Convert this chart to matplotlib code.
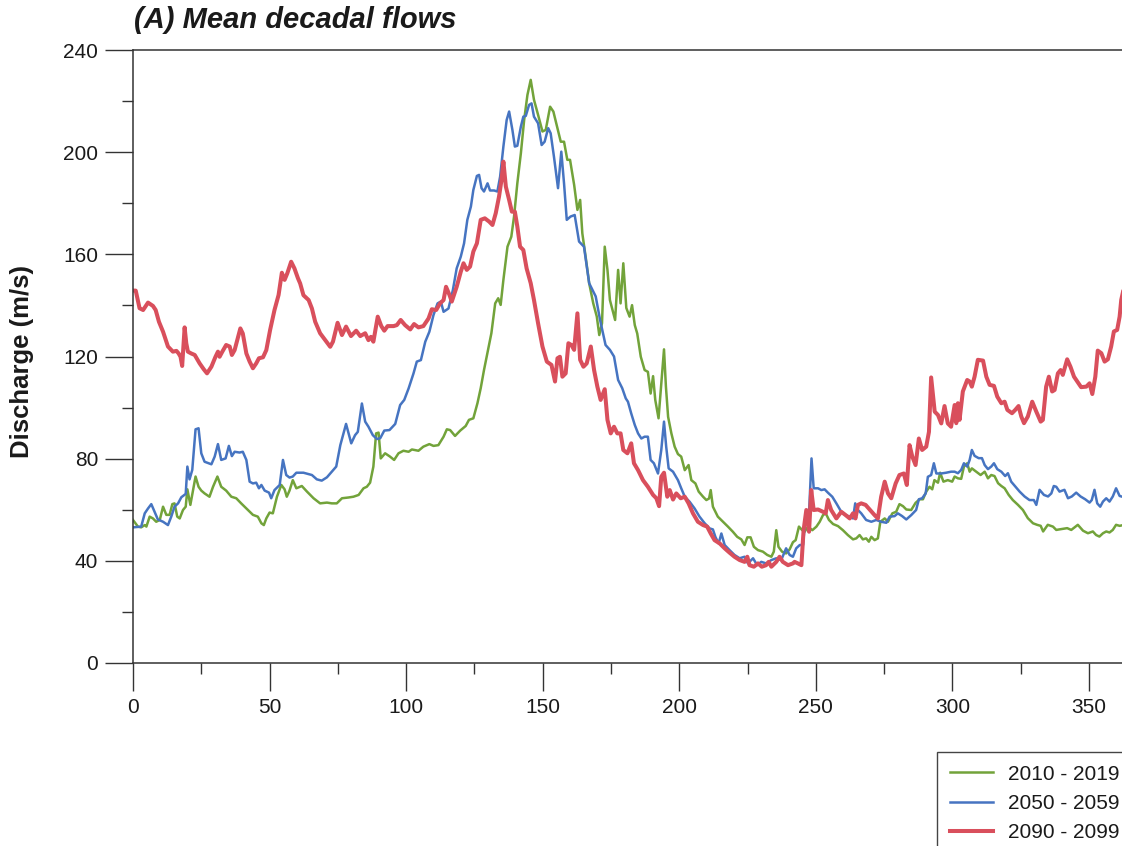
import matplotlib
matplotlib.use("Agg")
import matplotlib.pyplot as plt
from matplotlib.ticker import MultipleLocator

plt.rcParams['font.family'] = ['Liberation Sans', 'DejaVu Sans']

# ---------------- data (day of year, discharge m/s) ----------------
labels = ["2010 - 2019", "2050 - 2059", "2090 - 2099"]

green_days = [0, 1.8, 3.0, 4.3, 4.9, 6.1, 7.3, 8.5, 9.8, 11.0, 12.2, 13.4, 14.4, 15.2, 16.2, 17.1, 18.3, 19.3, 19.9, 21.0,
              22.0, 22.9, 24.0, 25.0, 26.2, 28.0, 29.3, 30.9, 32.3, 34.1, 36.0, 37.8, 39.6, 42.1, 43.9, 45.7, 47.0, 47.9, 48.8, 50.0,
              51.2, 52.7, 54.3, 55.5, 56.3, 57.3, 58.5, 59.8, 61.8, 63.7, 66.1, 68.5, 71.0, 72.8, 74.6, 76.5, 78.9, 80.7, 82.6, 84.4,
              85.6, 86.8, 88.0, 89.0, 89.9, 90.7, 92.3, 94.1, 95.6, 97.2, 99.0, 100.9, 102.1, 104.5, 106.3, 108.5, 110.0, 111.8, 113.7, 114.9,
              116.1, 117.9, 119.8, 121.8, 123.0, 124.6, 126.1, 127.3, 128.5, 130.0, 131.2, 132.6, 133.7, 134.6, 135.6, 137.1, 138.5, 139.5, 140.7, 142.0,
              143.2, 144.4, 145.6, 146.8, 148.3, 149.9, 151.1, 152.7, 153.9, 155.4, 156.6, 157.8, 159.0, 160.0, 161.5, 162.7, 163.7, 164.5, 165.7, 167.0,
              168.5, 169.8, 170.7, 171.7, 172.7, 173.7, 174.6, 176.5, 177.6, 178.5, 179.5, 180.6, 181.8, 182.7, 183.7, 184.6, 185.9, 187.3, 188.5, 189.5,
              190.4, 191.2, 192.4, 193.4, 194.4, 195.1, 195.9, 197.1, 198.3, 199.5, 200.7, 202.0, 203.4, 204.4, 205.9, 207.1, 208.7, 209.9, 210.9, 211.5,
              212.3, 214.1, 216.0, 217.8, 219.6, 221.2, 222.7, 223.9, 224.9, 226.1, 227.3, 228.8, 230.6, 232.2, 233.7, 234.6, 235.5, 236.3, 237.6, 239.1,
              240.4, 241.6, 242.6, 243.8, 245.0, 245.9, 247.1, 248.7, 250.2, 251.4, 252.6, 253.6, 254.8, 256.3, 258.1, 259.9, 261.7, 263.6, 264.8, 266.0,
              267.2, 268.4, 269.4, 270.3, 271.5, 272.7, 273.6, 275.2, 276.4, 278.0, 279.4, 280.6, 281.9, 283.1, 284.9, 286.5, 288.0, 289.2, 290.4, 291.6,
              292.6, 293.4, 294.7, 295.5, 296.7, 298.3, 299.9, 300.8, 302.0, 303.2, 304.2, 305.4, 306.3, 307.1, 308.7, 310.3, 311.8, 313.0, 314.2, 315.4,
              316.7, 317.9, 319.1, 320.6, 322.1, 324.0, 325.8, 327.6, 329.5, 331.0, 332.3, 333.2, 334.9, 336.8, 338.0, 339.8, 342.0, 343.5, 345.9, 347.8,
              349.6, 351.4, 352.6, 353.8, 355.1, 356.3, 357.5, 358.7, 359.9, 361.2, 362.5]
green_vals = [56.0, 53.4, 53.1, 54.0, 53.4, 57.3, 56.6, 55.3, 56.0, 61.2, 58.0, 58.0, 62.2, 62.5, 57.3, 56.6, 59.9, 61.2, 68.0, 61.9,
              67.7, 73.0, 69.0, 67.5, 66.4, 65.1, 69.0, 73.0, 69.0, 67.5, 65.1, 64.5, 62.5, 59.9, 58.0, 57.3, 54.7, 54.0, 56.6, 58.9,
              58.6, 65.1, 69.7, 68.0, 65.1, 67.5, 71.6, 68.4, 69.3, 67.1, 64.5, 62.5, 62.8, 62.5, 62.5, 64.5, 64.8, 65.1, 65.8, 68.4,
              69.0, 70.6, 76.9, 89.9, 90.2, 80.1, 82.1, 80.8, 79.5, 82.1, 83.1, 82.7, 83.6, 83.1, 84.7, 85.7, 85.0, 85.3, 88.6, 91.5,
              91.2, 88.9, 91.0, 92.8, 95.2, 95.8, 101.7, 107.6, 114.7, 122.6, 129.1, 140.8, 142.8, 140.2, 150.0, 163.0, 166.9, 174.8, 187.8, 199.6,
              212.6, 222.4, 228.3, 220.5, 214.6, 208.1, 208.7, 217.8, 215.9, 209.4, 204.1, 204.1, 197.0, 197.0, 187.2, 177.4, 181.3, 168.2, 159.1, 148.7,
              140.8, 135.6, 128.4, 133.0, 163.0, 153.9, 142.1, 134.3, 153.9, 140.8, 156.5, 139.0, 135.6, 140.1, 132.3, 129.0, 119.9, 114.7, 114.0, 105.5,
              112.3, 103.0, 95.8, 109.5, 122.8, 108.2, 96.4, 89.9, 84.7, 81.8, 80.8, 75.5, 77.5, 71.6, 70.3, 67.1, 65.1, 63.8, 64.4, 67.7,
              61.2, 57.3, 55.3, 53.4, 51.4, 49.4, 48.4, 46.2, 49.2, 49.2, 45.5, 44.2, 43.6, 42.3, 41.6, 43.6, 52.0, 45.5, 43.6, 42.9,
              44.5, 47.3, 48.1, 53.4, 52.0, 51.4, 53.4, 52.0, 53.4, 55.3, 57.9, 58.6, 56.0, 54.4, 53.6, 52.0, 50.1, 48.4, 48.8, 50.1,
              48.4, 48.8, 47.5, 49.4, 48.1, 48.8, 55.3, 56.6, 55.3, 58.6, 59.2, 62.2, 61.4, 60.1, 59.9, 62.7, 64.1, 64.1, 67.1, 69.0,
              68.0, 71.6, 70.6, 74.5, 71.0, 71.6, 71.0, 73.0, 72.3, 72.1, 76.9, 78.2, 74.9, 76.2, 74.9, 73.6, 74.9, 72.3, 73.6, 73.2,
              70.4, 69.3, 68.4, 65.8, 63.8, 61.9, 59.9, 56.7, 54.7, 54.1, 53.7, 51.5, 54.1, 53.4, 52.1, 52.4, 52.8, 52.1, 54.1, 51.8,
              50.8, 51.5, 50.1, 49.5, 50.8, 51.5, 51.1, 52.1, 54.1, 53.7, 54.0]

blue_days = [0, 3.0, 4.3, 5.5, 6.7, 7.9, 9.1, 11.0, 12.8, 14.0, 15.2, 16.5, 17.7, 19.3, 19.9, 20.7, 21.7, 22.9, 24.0, 25.0,
             26.2, 28.7, 29.9, 31.1, 32.3, 33.9, 35.1, 36.2, 37.2, 39.0, 40.2, 41.5, 42.7, 43.9, 45.1, 46.1, 47.0, 48.2, 49.8, 50.6,
             51.8, 53.7, 54.9, 56.1, 57.3, 58.5, 59.8, 62.4, 65.5, 67.3, 69.1, 71.0, 72.8, 74.4, 75.9, 78.0, 79.9, 81.3, 82.3, 83.8,
             85.0, 86.2, 87.8, 89.3, 90.5, 92.0, 93.9, 96.0, 97.8, 99.3, 100.9, 102.7, 103.9, 105.4, 107.0, 108.5, 110.0, 111.5, 112.7, 113.7,
             115.5, 117.1, 118.5, 120.0, 121.2, 122.4, 123.7, 124.6, 125.9, 126.7, 127.6, 128.5, 129.8, 130.7, 132.2, 133.4, 134.4, 135.6, 136.8, 137.7,
             138.9, 139.8, 140.7, 142.0, 142.9, 143.8, 145.0, 145.9, 146.8, 148.3, 149.6, 150.7, 152.0, 152.9, 154.1, 155.6, 156.8, 157.8, 158.8, 160.2,
             161.7, 163.3, 165.1, 167.0, 168.2, 169.4, 171.0, 173.0, 174.6, 176.1, 177.6, 179.1, 180.4, 181.2, 182.4, 183.7, 184.9, 186.1, 187.3, 188.5,
             189.5, 190.7, 192.2, 193.4, 194.4, 195.2, 196.1, 197.7, 199.5, 200.7, 202.0, 203.8, 205.6, 207.4, 209.3, 211.1, 212.3, 213.2, 214.4, 215.4,
             216.6, 218.4, 220.2, 222.1, 223.9, 225.1, 227.0, 228.5, 230.0, 231.8, 233.7, 235.5, 237.3, 239.1, 240.4, 241.6, 242.8, 244.1, 245.3, 246.3,
             247.5, 248.4, 249.2, 250.8, 252.0, 253.2, 254.4, 256.0, 257.5, 259.3, 260.9, 262.4, 263.6, 264.4, 265.4, 266.6, 268.4, 270.3, 272.1, 273.9,
             275.8, 277.0, 278.8, 280.0, 281.6, 283.1, 284.9, 286.7, 287.7, 288.9, 290.2, 291.0, 292.2, 293.2, 294.1, 295.9, 297.7, 299.5, 300.8, 302.0,
             303.2, 304.2, 305.4, 306.3, 307.1, 308.1, 309.6, 310.8, 311.8, 313.0, 314.2, 315.2, 316.4, 317.9, 319.3, 320.3, 321.5, 323.0, 324.6, 326.4,
             328.2, 329.8, 330.7, 331.9, 333.5, 335.0, 336.2, 337.1, 338.0, 339.2, 341.0, 342.3, 343.7, 345.3, 346.9, 348.6, 350.2, 351.0, 352.0, 353.0,
             354.1, 355.1, 356.3, 357.5, 358.7, 359.9, 361.2, 362.5]
blue_vals = [53.1, 53.4, 58.6, 60.5, 62.2, 59.2, 56.2, 55.3, 54.0, 57.3, 61.2, 62.5, 64.9, 66.2, 76.9, 71.9, 75.6, 91.5, 91.9, 82.1,
             78.8, 77.8, 80.8, 85.7, 79.5, 80.1, 85.0, 81.0, 82.7, 82.4, 82.7, 79.5, 71.0, 70.3, 70.6, 68.4, 69.7, 67.5, 66.7, 64.5,
             67.7, 69.7, 79.5, 73.6, 72.6, 73.0, 74.5, 74.5, 73.6, 71.9, 71.4, 72.7, 74.9, 76.9, 85.3, 93.6, 86.0, 89.2, 90.5, 101.6,
             94.5, 92.5, 89.2, 87.7, 88.0, 91.0, 91.2, 93.6, 101.0, 103.0, 107.5, 113.4, 118.0, 118.6, 125.8, 129.7, 136.2, 140.8, 141.5, 137.5,
             138.8, 146.0, 154.5, 159.1, 164.3, 173.5, 178.7, 185.2, 190.7, 191.1, 185.9, 184.6, 187.8, 185.0, 185.0, 184.6, 190.4, 202.2, 212.6, 215.9,
             208.7, 202.2, 202.5, 210.0, 213.9, 214.2, 218.5, 219.1, 213.9, 211.3, 202.8, 204.1, 209.4, 207.4, 198.3, 185.9, 200.2, 187.8, 173.5, 174.8,
             175.4, 165.0, 163.0, 148.7, 146.1, 143.5, 134.3, 124.5, 122.6, 120.0, 110.8, 107.6, 103.6, 102.3, 97.7, 93.2, 89.9, 87.9, 88.6, 88.6,
             79.5, 78.2, 74.2, 83.4, 94.5, 84.7, 76.2, 74.9, 71.6, 68.4, 65.1, 63.1, 60.5, 57.3, 54.7, 52.7, 52.3, 49.4, 46.8, 50.7,
             46.2, 44.2, 42.3, 41.0, 41.6, 39.0, 41.0, 38.3, 39.6, 39.0, 40.3, 41.0, 40.3, 44.9, 42.3, 41.6, 44.9, 46.2, 46.2, 58.6,
             58.6, 80.1, 68.4, 68.4, 67.7, 68.0, 66.7, 65.1, 62.5, 59.2, 57.9, 57.3, 56.6, 62.5, 59.9, 58.6, 56.0, 55.3, 56.0, 55.3,
             54.9, 57.3, 57.5, 58.6, 57.5, 56.2, 57.9, 59.9, 64.1, 64.5, 66.4, 72.9, 73.6, 78.2, 74.2, 74.2, 74.5, 74.9, 74.9, 74.3,
             75.6, 78.2, 76.9, 79.5, 83.4, 81.1, 80.2, 80.2, 77.5, 75.9, 76.9, 78.2, 75.9, 74.9, 73.2, 74.3, 71.0, 69.1, 67.1, 65.2,
             63.8, 63.8, 61.9, 67.8, 65.8, 65.2, 66.4, 69.3, 69.0, 67.1, 67.8, 64.5, 65.2, 66.7, 65.2, 64.1, 62.8, 63.8, 67.8, 62.5,
             61.2, 63.2, 64.5, 63.2, 65.2, 68.4, 65.4, 65.0]

red_days = [0, 1.0, 2.4, 3.7, 5.5, 7.3, 8.3, 9.5, 11.0, 12.8, 14.6, 15.9, 16.7, 17.4, 18.0, 18.9, 19.5, 20.1, 21.3, 22.6,
            24.4, 25.9, 27.1, 28.7, 30.2, 31.1, 31.7, 32.7, 34.1, 35.4, 36.2, 37.2, 38.0, 39.3, 40.2, 41.5, 42.7, 43.9, 45.1, 46.1,
            47.6, 48.8, 50.2, 51.8, 53.3, 54.5, 55.5, 56.5, 57.9, 59.1, 60.4, 61.2, 62.4, 64.3, 65.5, 66.7, 68.5, 70.4, 72.2, 73.2,
            74.9, 76.5, 78.0, 79.8, 81.7, 83.2, 85.0, 86.2, 87.1, 88.0, 89.6, 90.9, 92.0, 93.2, 95.4, 96.6, 98.0, 99.6, 101.5, 102.9,
            104.5, 106.3, 108.2, 109.4, 111.0, 112.4, 113.7, 114.6, 115.9, 116.7, 118.5, 120.0, 121.0, 122.2, 123.4, 124.6, 125.9, 127.3, 128.8, 130.4,
            131.6, 132.8, 134.0, 134.9, 135.6, 136.5, 137.7, 138.7, 139.8, 140.7, 141.7, 142.9, 144.1, 145.6, 146.8, 148.3, 149.9, 151.5, 153.2, 154.5,
            155.4, 156.3, 157.2, 158.4, 159.4, 160.5, 161.5, 162.7, 163.7, 164.9, 166.1, 167.6, 168.8, 170.0, 171.2, 172.7, 173.7, 174.9, 176.1, 177.3,
            178.5, 179.5, 181.0, 182.4, 183.4, 184.9, 186.7, 188.5, 190.4, 191.6, 192.6, 193.4, 194.4, 195.6, 196.5, 197.7, 198.9, 200.5, 202.0, 203.4,
            205.0, 206.8, 208.7, 210.2, 211.5, 212.9, 214.8, 216.6, 218.4, 220.2, 222.1, 223.9, 224.9, 225.7, 227.3, 228.8, 230.2, 231.8, 232.7, 233.7,
            235.5, 236.7, 237.9, 239.8, 241.6, 242.2, 243.4, 244.7, 245.5, 246.5, 247.5, 248.3, 249.2, 250.8, 252.6, 253.6, 254.4, 255.6, 257.5, 259.3,
            260.9, 262.4, 263.6, 264.5, 265.4, 266.6, 268.2, 269.7, 271.5, 272.7, 273.9, 275.2, 276.4, 277.6, 279.2, 280.6, 282.2, 283.3, 284.3, 285.3,
            286.5, 287.7, 288.9, 290.4, 291.4, 292.2, 293.5, 294.7, 295.9, 297.1, 298.3, 299.5, 300.8, 301.4, 302.0, 302.6, 303.8, 305.4, 306.3, 307.1,
            308.1, 309.3, 311.2, 312.4, 313.6, 315.2, 316.4, 317.9, 319.1, 320.1, 321.8, 323.0, 324.2, 325.2, 326.2, 327.6, 329.2, 330.7, 332.3, 333.1,
            334.3, 335.3, 336.5, 337.4, 338.6, 339.6, 340.4, 342.0, 343.2, 344.5, 345.7, 347.1, 349.0, 350.2, 351.2, 352.3, 353.2, 354.5, 355.7, 356.9,
            358.1, 359.1, 360.3, 361.2, 361.8, 363.0]
red_vals = [145.8, 145.8, 138.9, 138.2, 141.1, 139.8, 138.2, 133.6, 129.7, 123.9, 121.9, 122.2, 121.2, 119.9, 116.3, 131.4, 125.2, 121.9, 121.2, 120.6,
            117.3, 115.0, 113.4, 116.0, 119.9, 121.9, 119.9, 121.9, 124.5, 123.9, 120.6, 122.5, 125.8, 131.0, 129.0, 121.2, 118.0, 115.4, 117.3, 119.3,
            119.7, 122.5, 130.4, 138.2, 144.1, 152.8, 150.0, 152.6, 157.1, 154.5, 150.6, 148.6, 144.0, 142.1, 138.8, 133.6, 129.1, 126.4, 123.8, 125.8,
            133.2, 128.4, 131.7, 128.0, 130.1, 128.0, 129.1, 126.4, 127.7, 125.8, 135.6, 131.9, 130.1, 131.9, 131.9, 132.3, 134.3, 132.3, 130.6, 132.7,
            131.4, 131.9, 134.9, 138.5, 138.2, 140.8, 142.1, 147.3, 144.0, 141.5, 147.3, 153.2, 156.5, 153.9, 155.2, 161.1, 164.3, 173.5, 174.1, 172.8,
            171.5, 176.1, 182.6, 189.1, 196.3, 186.5, 181.3, 176.7, 176.7, 170.9, 163.0, 161.7, 154.5, 148.7, 142.1, 133.0, 123.9, 118.0, 116.7, 110.2,
            119.3, 119.9, 112.1, 113.4, 125.2, 124.5, 122.6, 136.9, 118.7, 116.0, 117.3, 123.9, 114.7, 108.2, 103.0, 107.2, 95.2, 89.9, 92.5, 89.9,
            89.9, 83.4, 82.1, 86.0, 78.2, 75.5, 71.6, 69.0, 65.8, 64.5, 61.4, 72.9, 74.5, 65.1, 67.7, 64.0, 66.4, 64.5, 65.1, 62.5,
            58.6, 55.3, 54.0, 53.4, 50.7, 48.1, 46.8, 44.9, 43.2, 41.6, 40.3, 39.6, 41.6, 38.3, 37.7, 39.0, 37.7, 38.3, 39.6, 37.7,
            39.6, 41.6, 39.6, 38.3, 39.0, 39.6, 39.0, 38.3, 52.0, 59.9, 51.4, 67.7, 59.9, 60.1, 59.2, 58.6, 63.8, 59.9, 56.6, 59.2,
            57.9, 56.6, 58.6, 56.6, 61.9, 62.5, 61.9, 60.1, 57.9, 56.6, 65.1, 71.0, 66.4, 64.5, 70.3, 73.6, 74.2, 69.7, 85.3, 80.8,
            77.5, 87.9, 83.4, 84.7, 90.5, 111.8, 98.4, 97.1, 93.8, 100.6, 93.8, 92.5, 101.0, 93.9, 101.7, 95.2, 106.3, 110.8, 110.2, 108.2,
            112.1, 118.7, 118.4, 112.1, 108.9, 108.5, 104.3, 101.7, 102.3, 99.1, 97.8, 99.1, 100.6, 96.5, 93.9, 96.5, 102.3, 98.4, 94.5, 95.2,
            108.2, 112.1, 106.3, 106.9, 113.4, 114.7, 112.8, 118.9, 116.0, 112.1, 110.2, 108.0, 108.2, 109.5, 105.3, 112.1, 122.3, 121.3, 118.0, 118.9,
            123.9, 129.8, 130.4, 135.6, 142.2, 148.0]

x_ticks = [0, 50, 100, 150, 200, 250, 300, 350]
y_ticks = [0, 40, 80, 120, 160, 200, 240]

colors = ["#72A33A", "#4674C1", "#D94F5C"]
widths = [1.8, 1.8, 2.9]

# ---------------- figure ----------------
W, H = 1122, 846
fig = plt.figure(figsize=(W / 100, H / 100), dpi=100)
ax = fig.add_axes([133 / W, 1 - 663 / H, (1130 - 133) / W, (663 - 50) / H])

series = [(green_days, green_vals), (blue_days, blue_vals), (red_days, red_vals)]
handles = []
for (d, v), c, lw, lab in zip(series, colors, widths, labels):
    h, = ax.plot(d, v, color=c, lw=lw, label=lab, solid_joinstyle='round')
    handles.append(h)

ax.set_xlim(0, 365)
ax.set_ylim(0, 240)
ax.set_xticks(x_ticks)
ax.set_yticks(y_ticks)
ax.xaxis.set_minor_locator(MultipleLocator(25))
ax.yaxis.set_minor_locator(MultipleLocator(20))

spine_col = "#333333"
for s in ['left', 'top', 'bottom', 'right']:
    ax.spines[s].set_color(spine_col)
    ax.spines[s].set_linewidth(1.1)

ax.tick_params(which='major', direction='out', length=20, width=1.0, color=spine_col,
               labelsize=15, labelcolor='#1a1a1a', pad=5)
ax.tick_params(which='minor', direction='out', length=8, width=1.0, color=spine_col)

fig.text(22 / W, 1 - 361 / H, "Discharge (m/s)", rotation=90, ha='center', va='center',
         fontsize=18.5, fontweight='bold', color='#1a1a1a')
fig.text(134 / W, 1 - 20 / H, "(A) Mean decadal flows", ha='left', va='center',
         fontsize=21, fontweight='bold', fontstyle='italic', color='#1a1a1a')

leg = fig.legend(handles=handles, labels=labels, loc='upper left',
                 bbox_to_anchor=(937 / W, 1 - 752 / H), bbox_transform=fig.transFigure,
                 fontsize=15, frameon=True, fancybox=False, framealpha=1,
                 edgecolor='#444444', borderpad=0.6, labelspacing=0.5,
                 handlelength=2.1, handletextpad=0.7, borderaxespad=0)
leg.get_frame().set_linewidth(1.0)
for t in leg.get_texts():
    t.set_color('#1a1a1a')

fig.savefig("out.png", dpi=100)
